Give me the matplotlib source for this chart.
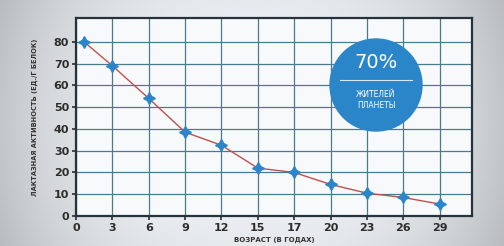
import numpy as np
import matplotlib.pyplot as plt
from matplotlib.patches import Circle

# возраст (подписи оси X) и лактазная активность
age_labels = ['0', '3', '6', '9', '12', '15', '17', '20', '23', '26', '29']
point_pos = [0.22, 1, 2, 3, 4, 5, 6, 7, 8, 9, 10]
activity = [80, 69, 54, 38.5, 32.5, 22, 20, 14.5, 10.5, 8.5, 5.5]
y_ticks = [0, 10, 20, 30, 40, 50, 60, 70, 80]

GRID = '#4a7a8e'
SPINE = '#26323c'
LINE = '#c0504d'
BLUE = '#2b86c9'

fig = plt.figure(figsize=(5.04, 2.46), dpi=100)

# фон с виньеткой
bg = fig.add_axes([0, 0, 1, 1])
xx, yy = np.meshgrid(np.linspace(-1, 1, 300), np.linspace(-1, 1, 150))
shade = 0.97 - 0.18 * (np.abs(xx) ** 2.5) - 0.04 * (yy ** 2)
bg.imshow(np.dstack([shade * 0.97, shade * 0.985, shade]).clip(0, 1),
          aspect='auto', extent=[0, 1, 0, 1])
bg.axis('off')

ax = fig.add_axes([0.151, 0.122, 0.786, 0.805])
ax.set_facecolor('#f8f9fa')
ax.set_xlim(0, 10.9)
ax.set_ylim(0, 91)
ax.set_xticks(range(len(age_labels)))
ax.set_xticklabels(age_labels)
ax.set_yticks(y_ticks)
ax.grid(True, color=GRID, lw=0.9)
ax.set_axisbelow(True)
for s in ax.spines.values():
    s.set_color(SPINE)
    s.set_linewidth(1.6)
ax.tick_params(colors='#2d2d2d', labelsize=8, length=3, width=1.2, pad=2)
for lbl in ax.get_xticklabels() + ax.get_yticklabels():
    lbl.set_fontweight('bold')

ax.plot(point_pos, activity, color=LINE, lw=1.0, zorder=3)
ax.plot(point_pos, activity, ls='none', marker=(4, 1, 0), ms=8.5,
        color=BLUE, mec=BLUE, zorder=4)

ax.set_ylabel('ЛАКТАЗНАЯ АКТИВНОСТЬ (ЕД./Г БЕЛОК)', fontsize=4.8,
              color='#333333', fontweight='bold', labelpad=11)
ax.set_xlabel('ВОЗРАСТ (В ГОДАХ)', fontsize=5, color='#333333',
              fontweight='bold', labelpad=3)

# круг с подписью
circ = Circle((376, 246 - 85), 46, transform=None, color=BLUE, zorder=5)
fig.patches.append(circ)
fig.text(376 / 504, 1 - 63 / 246, '70%', color='white', fontsize=14,
         ha='center', va='center', zorder=6)
fig.add_artist(plt.Line2D([340 / 504, 412 / 504], [1 - 80 / 246] * 2,
                          color='white', lw=0.8, alpha=0.8, zorder=6))
fig.text(376 / 504, 1 - 100 / 246, 'ЖИТЕЛЕЙ\nПЛАНЕТЫ', color='white',
         fontsize=5.5, ha='center', va='center', linespacing=1.3, zorder=6)

fig.savefig('out.png', dpi=100)
